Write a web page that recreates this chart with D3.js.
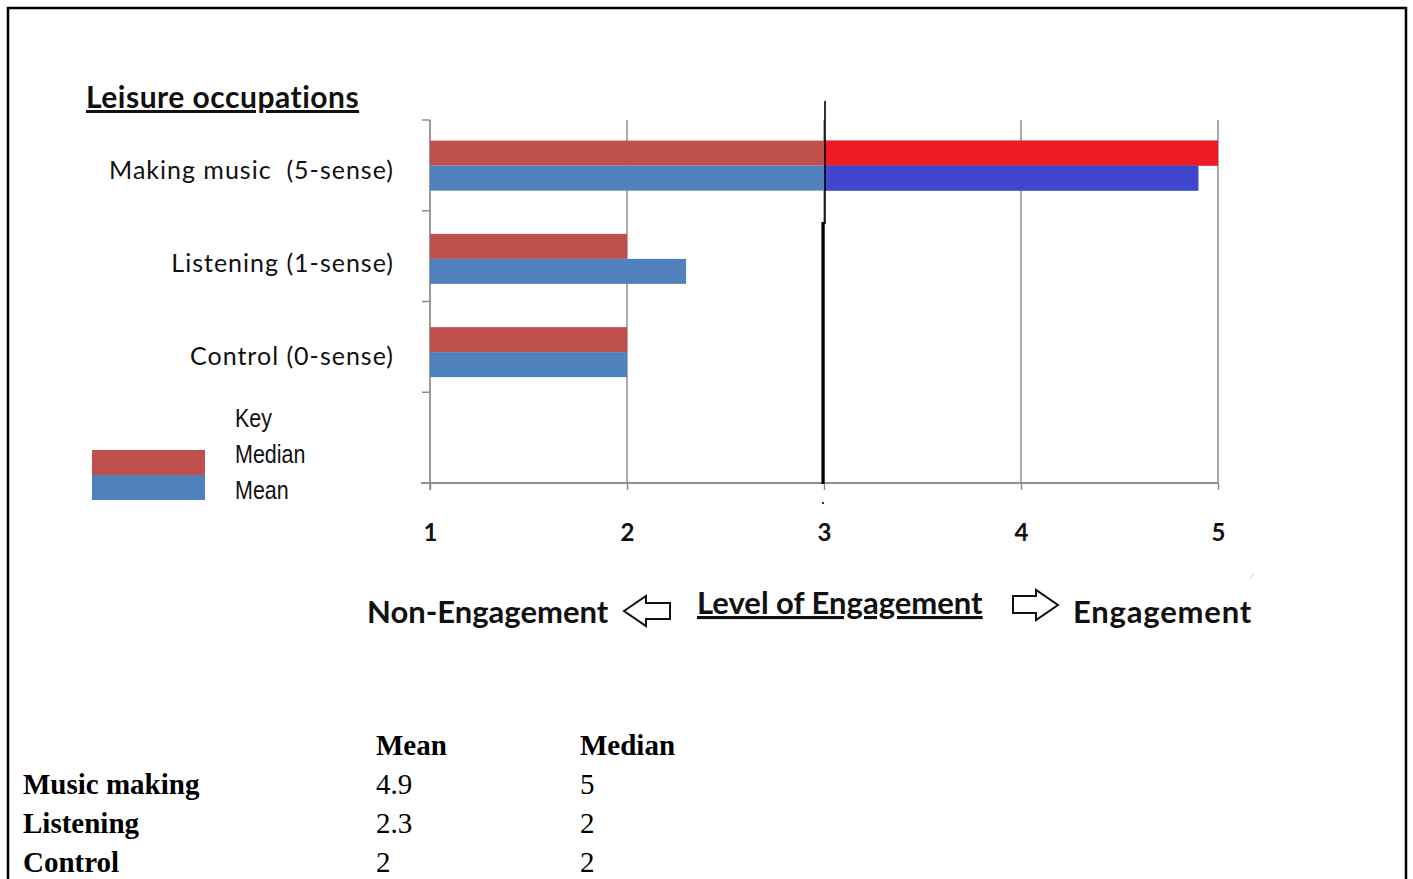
<!DOCTYPE html>
<html>
<head>
<meta charset="utf-8">
<script src="https://cdn.jsdelivr.net/npm/d3@7"></script>
<style>
  html, body { margin: 0; padding: 0; background: #fff; }
  svg { display: block; }
  text { white-space: pre; }
</style>
</head>
<body>
<svg id="chart" width="1413" height="879"></svg>
<script>
// ---- data ----
const categories = ["Making music  (5-sense)", "Listening (1-sense)", "Control (0-sense)", ""];
const medianValues = [5, 2, 2, null];
const meanValues = [4.9, 2.3, 2, null];
const xTicks = [1, 2, 3, 4, 5];
const legendLabels = ["Key", "Median", "Mean"];
const tableHeaders = ["Mean", "Median"];
const tableRows = ["Music making", "Listening", "Control"];
const tableMean = ["4.9", "2.3", "2"];
const tableMedian = ["5", "2", "2"];
const thresholdValue = 3;
const highlightCategory = "Making music  (5-sense)";

// ---- setup ----
const svg = d3.select("#chart");
const colMedian = "#C0504D", colMean = "#4F81BD";
const colMedianHi = "#ED1C24", colMeanHi = "#3F48CC";
const gridCol = "#8f8f8f";

// outer border (open at bottom)
svg.append("path")
  .attr("d", "M8,879 L8,8 L1406,8 L1406,879")
  .attr("fill", "none").attr("stroke", "#000").attr("stroke-width", 2.5);

const x = d3.scaleLinear().domain([1, 5]).range([430, 1218]);
const y = d3.scaleBand().domain(categories).range([120, 483]).paddingInner(0).paddingOuter(0);
const yBar = y.copy().range([120, 493]);
const barH = 25;
const yc = c => yBar(c) + yBar.bandwidth() / 2 - 1;

// grid lines
svg.append("g").selectAll("line").data(xTicks.slice(1)).join("line")
  .attr("x1", d => x(d)).attr("x2", d => x(d))
  .attr("y1", 120).attr("y2", 483)
  .attr("stroke", gridCol).attr("stroke-width", 1.5);

// x axis
const xAxis = d3.axisBottom(x).tickValues(xTicks).tickFormat(d3.format("d"))
  .tickSize(7).tickPadding(34).tickSizeOuter(0);
const gx = svg.append("g").attr("transform", "translate(0,483)").call(xAxis);
gx.select(".domain").remove();
gx.selectAll(".tick line").attr("stroke", gridCol).attr("stroke-width", 1.5);
gx.selectAll(".tick text")
  .attr("font-family", "Lato, sans-serif").attr("font-size", 24).attr("font-weight", "bold")
  .attr("fill", "#111");
svg.append("line").attr("x1", 421).attr("x2", x(5)).attr("y1", 483).attr("y2", 483)
  .attr("stroke", gridCol).attr("stroke-width", 1.8);

// y axis
svg.append("line").attr("x1", x(1)).attr("x2", x(1)).attr("y1", 120).attr("y2", 490)
  .attr("stroke", gridCol).attr("stroke-width", 1.8);
const yTickPos = categories.map(c => y(c)).concat([y.range()[1]]);
svg.append("g").selectAll("line").data(yTickPos).join("line")
  .attr("x1", 422).attr("x2", x(1)).attr("y1", d => d).attr("y2", d => d)
  .attr("stroke", gridCol).attr("stroke-width", 1.5);

// bars
const barData = categories.map((c, i) => ({ c, median: medianValues[i], mean: meanValues[i] }))
  .filter(d => d.median != null);
const gb = svg.append("g");
gb.selectAll("rect.med").data(barData).join("rect").attr("class", "med")
  .attr("x", x(1)).attr("y", d => yc(d.c) - barH)
  .attr("width", d => x(d.median) - x(1)).attr("height", barH).attr("fill", colMedian);
gb.selectAll("rect.mean").data(barData).join("rect").attr("class", "mean")
  .attr("x", x(1)).attr("y", d => yc(d.c))
  .attr("width", d => x(d.mean) - x(1)).attr("height", barH).attr("fill", colMean);
// highlighted portions beyond threshold
const hi = barData.filter(d => d.c === highlightCategory);
gb.selectAll("rect.medhi").data(hi).join("rect").attr("class", "medhi")
  .attr("x", x(thresholdValue)).attr("y", d => yc(d.c) - barH)
  .attr("width", d => x(d.median) - x(thresholdValue)).attr("height", barH).attr("fill", colMedianHi);
gb.selectAll("rect.meanhi").data(hi).join("rect").attr("class", "meanhi")
  .attr("x", x(thresholdValue)).attr("y", d => yc(d.c))
  .attr("width", d => x(d.mean) - x(thresholdValue)).attr("height", barH).attr("fill", colMeanHi);

// threshold line at 3
svg.append("line").attr("x1", x(thresholdValue) + 1).attr("x2", x(thresholdValue) + 1)
  .attr("y1", 101).attr("y2", 224).attr("stroke", "#000").attr("stroke-width", 1.6);
svg.append("line").attr("x1", x(thresholdValue) - 1).attr("x2", x(thresholdValue) - 1)
  .attr("y1", 222).attr("y2", 484).attr("stroke", "#000").attr("stroke-width", 3.2);
svg.append("rect").attr("x", x(thresholdValue) - 2).attr("y", 502).attr("width", 2).attr("height", 2).attr("fill", "#333");

// category labels
svg.append("g").selectAll("text").data(barData).join("text")
  .attr("x", 394).attr("y", d => yc(d.c) + 3)
  .attr("text-anchor", "end").attr("dominant-baseline", "central")
  .attr("font-family", "Lato, sans-serif").attr("font-size", 25).attr("letter-spacing", 1)
  .attr("fill", "#111")
  .text(d => d.c);

// title
svg.append("text").attr("x", 86).attr("y", 108)
  .attr("font-family", "Lato, sans-serif").attr("font-size", 30).attr("font-weight", "bold")
  .attr("letter-spacing", 0.5)
  .attr("fill", "#111").attr("text-decoration", "underline")
  .text("Leisure occupations");

// legend
svg.append("rect").attr("x", 92).attr("y", 450).attr("width", 113).attr("height", 25).attr("fill", colMedian);
svg.append("rect").attr("x", 92).attr("y", 475).attr("width", 113).attr("height", 25).attr("fill", colMean);
svg.append("g").attr("transform", "translate(235,0) scale(0.86,1)")
  .selectAll("text").data(legendLabels).join("text")
  .attr("x", 0).attr("y", (d, i) => 427 + i * 36)
  .attr("font-family", "'Liberation Sans', Arial, sans-serif")
  .attr("font-size", 25).attr("fill", "#111")
  .text(d => d);

// engagement caption
const capFont = "Lato, sans-serif";
svg.append("text").attr("x", 367).attr("y", 623)
  .attr("font-family", capFont).attr("font-size", 31).attr("font-weight", "bold").attr("fill", "#111")
  .text("Non-Engagement");
svg.append("text").attr("x", 697).attr("y", 614)
  .attr("font-family", capFont).attr("font-size", 31).attr("font-weight", "bold").attr("fill", "#111")
  .attr("text-decoration", "underline")
  .text("Level of Engagement");
svg.append("text").attr("x", 1073).attr("y", 623)
  .attr("font-family", capFont).attr("font-size", 31).attr("font-weight", "bold").attr("fill", "#111")
  .attr("letter-spacing", 0.8)
  .text("Engagement");
// hollow arrows
svg.append("path")
  .attr("d", "M624,611 L646,596 L646,603 L670,603 L670,619 L646,619 L646,626 Z")
  .attr("fill", "#fff").attr("stroke", "#111").attr("stroke-width", 2);
svg.append("path")
  .attr("d", "M1013,596 L1036,596 L1036,590 L1058,605 L1036,620 L1036,613 L1013,613 Z")
  .attr("fill", "#fff").attr("stroke", "#111").attr("stroke-width", 2);
svg.append("line").attr("x1", 1249).attr("y1", 579).attr("x2", 1254).attr("y2", 574)
  .attr("stroke", "#ccc").attr("stroke-width", 1);

// table
const tf = "'Liberation Serif', 'Times New Roman', serif";
const colX = [376, 580];
svg.append("g").selectAll("text").data(tableHeaders).join("text")
  .attr("x", (d, i) => colX[i]).attr("y", 755)
  .attr("font-family", tf).attr("font-size", 29).attr("font-weight", "bold").attr("fill", "#000")
  .text(d => d);
const rowY = i => 794 + i * 39;
svg.append("g").selectAll("text").data(tableRows).join("text")
  .attr("x", 23).attr("y", (d, i) => rowY(i))
  .attr("font-family", tf).attr("font-size", 29).attr("font-weight", "bold").attr("fill", "#000")
  .text(d => d);
svg.append("g").selectAll("text").data(tableMean).join("text")
  .attr("x", colX[0]).attr("y", (d, i) => rowY(i))
  .attr("font-family", tf).attr("font-size", 29).attr("fill", "#000")
  .text(d => d);
svg.append("g").selectAll("text").data(tableMedian).join("text")
  .attr("x", colX[1]).attr("y", (d, i) => rowY(i))
  .attr("font-family", tf).attr("font-size", 29).attr("fill", "#000")
  .text(d => d);
</script>
</body>
</html>
